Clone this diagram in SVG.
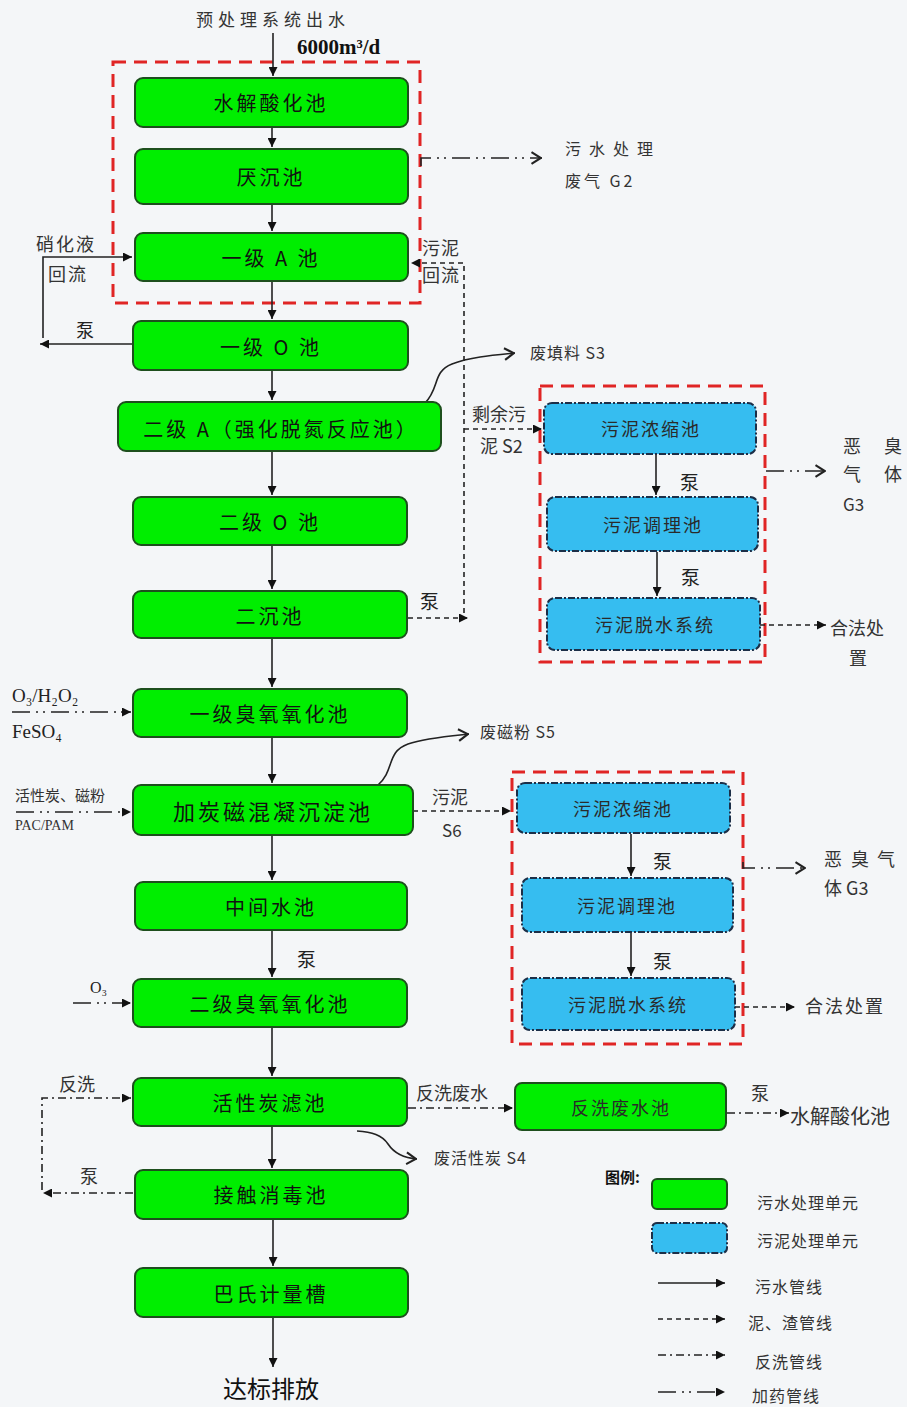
<svg xmlns="http://www.w3.org/2000/svg" width="907" height="1407" viewBox="0 0 907 1407">
<defs>
<style>
.g{fill:#00ee00;stroke:#1d4f1d;stroke-width:2}
.b{fill:#36bdf0;stroke:#1c2f48;stroke-width:2;stroke-dasharray:7,2,2,2}
.red{fill:none;stroke:#e02525;stroke-width:3;stroke-dasharray:13,8}
.t{font-family:"Noto Sans CJK SC",sans-serif;font-size:20px;fill:#111;text-anchor:middle;dominant-baseline:central;letter-spacing:3px}
.tb{font-family:"Noto Sans CJK SC",sans-serif;font-size:18px;fill:#2a2a2a;text-anchor:middle;dominant-baseline:central;letter-spacing:2px}
.l{font-family:"Noto Sans CJK SC",sans-serif;font-size:16px;fill:#333;dominant-baseline:central}
.p{font-family:"Noto Sans CJK SC",sans-serif;font-size:19px;fill:#222;dominant-baseline:central}
.s{fill:none;stroke:#222;stroke-width:1.6}
.d{fill:none;stroke:#222;stroke-width:1.6;stroke-dasharray:5,4}
.dd{fill:none;stroke:#222;stroke-width:1.6;stroke-dasharray:8,4,2,4}
.ddd{fill:none;stroke:#222;stroke-width:1.6;stroke-dasharray:18,6,2,5,2,6}
</style>
<marker id="a" viewBox="0 0 10 10" refX="10" refY="5" markerWidth="10" markerHeight="9" markerUnits="userSpaceOnUse" orient="auto"><path d="M0,0 L10,5 L0,10 z" fill="#111"/></marker>
<marker id="c" viewBox="0 0 10 12" refX="10" refY="6" markerWidth="12" markerHeight="14" markerUnits="userSpaceOnUse" orient="auto"><path d="M1,1 L9,6 L1,11" fill="none" stroke="#222" stroke-width="1.8"/></marker>
</defs>
<rect width="907" height="1407" fill="#f4f6f8"/>

<g id="frames">
<rect class="red" x="113" y="62" width="307" height="241"/>
<rect class="red" x="540" y="386" width="225" height="276"/>
<rect class="red" x="512" y="772" width="231" height="272"/>
</g>

<g id="connectors">
<path class="s" d="M273,33 V76" marker-end="url(#a)"/>
<path class="s" d="M272,127 V147" marker-end="url(#a)"/>
<path class="s" d="M272,204 V231" marker-end="url(#a)"/>
<path class="s" d="M272,281 V319" marker-end="url(#a)"/>
<path class="s" d="M272,370 V400" marker-end="url(#a)"/>
<path class="s" d="M272,451 V495" marker-end="url(#a)"/>
<path class="s" d="M272,545 V589" marker-end="url(#a)"/>
<path class="s" d="M272,638 V687" marker-end="url(#a)"/>
<path class="s" d="M272,737 V783" marker-end="url(#a)"/>
<path class="s" d="M272,835 V880" marker-end="url(#a)"/>
<path class="s" d="M272,930 V977" marker-end="url(#a)"/>
<path class="s" d="M272,1027 V1076" marker-end="url(#a)"/>
<path class="s" d="M272,1126 V1168" marker-end="url(#a)"/>
<path class="s" d="M273,1219 V1266" marker-end="url(#a)"/>
<path class="s" d="M273,1317 V1367" marker-end="url(#a)"/>
<path class="s" d="M133,344 H40" marker-end="url(#a)"/>
<path class="s" d="M43,338 V257 H132" marker-end="url(#a)"/>
<path class="d" d="M464,613 V263 H411" marker-end="url(#a)"/>
<path class="d" d="M464,429 H542" marker-end="url(#a)"/>
<path class="d" d="M408,618 H468" marker-end="url(#a)"/>
<path class="ddd" d="M421,166 V158 H542" marker-end="url(#c)"/>
<path class="s" d="M656,453 V495" marker-end="url(#a)"/>
<path class="s" d="M657,552 V596" marker-end="url(#a)"/>
<path class="ddd" d="M766,471 H826" marker-end="url(#c)"/>
<path class="d" d="M760,625 H826" marker-end="url(#a)"/>
<path class="s" d="M425,403 C440,388 432,372 452,364 C470,357 495,355 515,353" marker-end="url(#c)"/>
<path class="ddd" d="M12,712 H131" marker-end="url(#a)"/>
<path class="ddd" d="M16,812 H131" marker-end="url(#a)"/>
<path class="s" d="M378,785 C395,770 386,752 408,744 C425,738 450,736 469,734" marker-end="url(#c)"/>
<path class="d" d="M413,811 H511" marker-end="url(#a)"/>
<path class="s" d="M631,834 V876" marker-end="url(#a)"/>
<path class="s" d="M631,932 V976" marker-end="url(#a)"/>
<path class="ddd" d="M743,862 V868 H806" marker-end="url(#c)"/>
<path class="d" d="M735,1007 H795" marker-end="url(#a)"/>
<path class="ddd" d="M73,1003 H131" marker-end="url(#a)"/>
<path class="dd" d="M42,1190 V1098 H131" marker-end="url(#a)"/>
<path class="dd" d="M133,1193 H43" marker-end="url(#a)"/>
<path class="dd" d="M408,1108 H513" marker-end="url(#a)"/>
<path class="dd" d="M727,1113 H789" marker-end="url(#a)"/>
<path class="s" d="M357,1131 C372,1132 382,1135 388,1144 C394,1153 403,1158 417,1159" marker-end="url(#c)"/>
</g>

<g id="n1"><rect class="g" x="135" y="78" width="273" height="49" rx="8"/><text class="t" x="271" y="102">水解酸化池</text></g>
<g id="n2"><rect class="g" x="135" y="149" width="273" height="55" rx="8"/><text class="t" x="271" y="176">厌沉池</text></g>
<g id="n3"><rect class="g" x="135" y="233" width="273" height="48" rx="8"/><text class="t" x="271" y="257">一级 A 池</text></g>
<g id="n4"><rect class="g" x="133" y="321" width="275" height="49" rx="8"/><text class="t" x="271" y="346">一级 O 池</text></g>
<g id="n5"><rect class="g" x="118" y="402" width="323" height="49" rx="8"/><text class="t" x="281" y="428">二级 A（强化脱氮反应池）</text></g>
<g id="n6"><rect class="g" x="133" y="497" width="274" height="48" rx="8"/><text class="t" x="270" y="521">二级 O 池</text></g>
<g id="n7"><rect class="g" x="133" y="591" width="274" height="47" rx="8"/><text class="t" x="270" y="615">二沉池</text></g>
<g id="n8"><rect class="g" x="133" y="689" width="274" height="48" rx="8"/><text class="t" x="270" y="713">一级臭氧氧化池</text></g>
<g id="n9"><rect class="g" x="133" y="785" width="280" height="50" rx="8"/><text class="t" x="273" y="810" style="font-size:22px">加炭磁混凝沉淀池</text></g>
<g id="n10"><rect class="g" x="135" y="882" width="272" height="48" rx="8"/><text class="t" x="271" y="906">中间水池</text></g>
<g id="n11"><rect class="g" x="133" y="979" width="274" height="48" rx="8"/><text class="t" x="270" y="1003">二级臭氧氧化池</text></g>
<g id="n12"><rect class="g" x="133" y="1078" width="274" height="48" rx="8"/><text class="t" x="270" y="1102">活性炭滤池</text></g>
<g id="n13"><rect class="g" x="135" y="1170" width="273" height="49" rx="8"/><text class="t" x="271" y="1194">接触消毒池</text></g>
<g id="n14"><rect class="g" x="135" y="1268" width="273" height="49" rx="8"/><text class="t" x="271" y="1293">巴氏计量槽</text></g>
<g id="n15"><rect class="g" x="515" y="1083" width="211" height="47" rx="7"/><text class="tb" x="621" y="1107">反洗废水池</text></g>

<g id="s1"><rect class="b" x="544" y="403" width="212" height="51" rx="8"/><text class="tb" x="651" y="428">污泥浓缩池</text></g>
<g id="s2"><rect class="b" x="547" y="497" width="211" height="54" rx="8"/><text class="tb" x="653" y="524">污泥调理池</text></g>
<g id="s3"><rect class="b" x="547" y="598" width="213" height="52" rx="8"/><text class="tb" x="655" y="624">污泥脱水系统</text></g>
<g id="s4"><rect class="b" x="517" y="783" width="213" height="50" rx="8"/><text class="tb" x="623" y="808">污泥浓缩池</text></g>
<g id="s5"><rect class="b" x="522" y="878" width="211" height="54" rx="8"/><text class="tb" x="627" y="905">污泥调理池</text></g>
<g id="s6"><rect class="b" x="522" y="978" width="213" height="52" rx="8"/><text class="tb" x="628" y="1004">污泥脱水系统</text></g>

<g id="labels">
<text class="l" x="273" y="18" text-anchor="middle" style="font-size:17px;letter-spacing:5px">预处理系统出水</text>
<text x="297" y="54" style="font-family:'Liberation Serif',serif;font-size:21px;font-weight:bold;fill:#111">6000m³/d</text>
<text class="l" x="565" y="148" style="letter-spacing:8px">污水处理</text>
<text class="l" x="565" y="180" style="letter-spacing:3px">废气 G2</text>
<text class="l" x="36" y="243" style="font-size:18px;letter-spacing:2px">硝化液</text>
<text class="l" x="48" y="273" style="font-size:18px;letter-spacing:2px">回流</text>
<text class="l" x="422" y="247" style="font-size:18px;letter-spacing:1px">污泥</text>
<text class="l" x="422" y="274" style="font-size:18px;letter-spacing:1px">回流</text>
<text class="p" x="76" y="329" style="font-size:18px">泵</text>
<text class="l" x="530" y="352" style="letter-spacing:1px">废填料 S3</text>
<text class="l" x="472" y="413" style="font-size:18px">剩余污</text>
<text class="l" x="480" y="445" style="font-size:18px">泥 S2</text>
<text class="p" x="680" y="481">泵</text>
<text class="p" x="681" y="576">泵</text>
<text class="p" x="420" y="600">泵</text>
<text class="l" y="445" style="font-size:18px"><tspan x="843">恶</tspan><tspan x="884">臭</tspan></text>
<text class="l" y="473" style="font-size:18px"><tspan x="843">气</tspan><tspan x="884">体</tspan></text>
<text class="l" x="843" y="503" style="font-size:17px">G3</text>
<text class="l" x="830" y="627" style="font-size:18px">合法处</text>
<text class="l" x="849" y="657" style="font-size:18px">置</text>
<text x="12" y="702" style="font-family:'Liberation Serif',serif;font-size:19px;fill:#222">O₃/H₂O₂</text>
<text x="12" y="738" style="font-family:'Liberation Serif',serif;font-size:19px;fill:#222">FeSO₄</text>
<text class="l" x="480" y="731" style="letter-spacing:1px">废磁粉 S5</text>
<text class="l" x="15" y="794" style="font-size:15px">活性炭、磁粉</text>
<text x="15" y="830" style="font-family:'Liberation Serif',serif;font-size:14px;fill:#333">PAC/PAM</text>
<text class="l" x="432" y="796" style="font-size:18px">污泥</text>
<text class="l" x="442" y="829" style="font-size:17px">S6</text>
<text class="p" x="653" y="860">泵</text>
<text class="p" x="653" y="960">泵</text>
<text class="l" y="858" style="font-size:18px"><tspan x="824">恶</tspan><tspan x="851">臭</tspan><tspan x="877">气</tspan></text>
<text class="l" x="824" y="887" style="font-size:18px">体 G3</text>
<text class="l" x="805" y="1005" style="font-size:18px;letter-spacing:2px">合法处置</text>
<text class="p" x="297" y="958">泵</text>
<text x="90" y="993" style="font-family:'Liberation Serif',serif;font-size:16px;fill:#222">O₃</text>
<text class="l" x="59" y="1083" style="font-size:18px">反洗</text>
<text class="l" x="416" y="1092" style="font-size:18px">反洗废水</text>
<text class="l" x="751" y="1092" style="font-size:18px">泵</text>
<text class="l" x="790" y="1115" style="font-size:20px">水解酸化池</text>
<text class="l" x="434" y="1157" style="letter-spacing:1px">废活性炭 S4</text>
<text class="l" x="80" y="1175" style="font-size:18px">泵</text>
<text class="l" x="223" y="1387" style="font-size:24px;fill:#111">达标排放</text>
</g>

<g id="legend">
<text x="605" y="1176" style="font-family:'Noto Sans CJK SC',sans-serif;font-size:15px;font-weight:bold;fill:#111;dominant-baseline:central">图例:</text>
<rect class="g" x="652" y="1179" width="75" height="30" rx="5"/>
<text class="l" x="757" y="1202" style="letter-spacing:1px">污水处理单元</text>
<rect class="b" x="652" y="1223" width="75" height="30" rx="5"/>
<text class="l" x="757" y="1240" style="letter-spacing:1px">污泥处理单元</text>
<path class="s" d="M658,1283 H725" marker-end="url(#a)"/>
<text class="l" x="755" y="1286" style="letter-spacing:1px">污水管线</text>
<path class="d" d="M658,1319 H725" marker-end="url(#a)"/>
<text class="l" x="748" y="1322" style="letter-spacing:1px">泥、渣管线</text>
<path class="dd" d="M658,1355 H725" marker-end="url(#a)"/>
<text class="l" x="755" y="1361" style="letter-spacing:1px">反洗管线</text>
<path class="ddd" d="M658,1392 H725" marker-end="url(#a)"/>
<text class="l" x="752" y="1395" style="letter-spacing:1px">加药管线</text>
</g>
</svg>
